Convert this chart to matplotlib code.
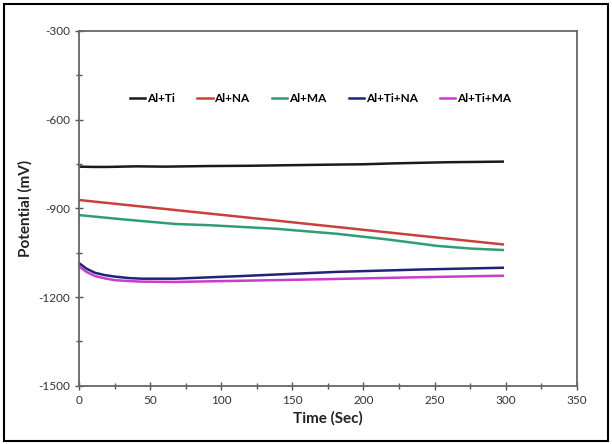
import matplotlib
matplotlib.use("Agg")
import matplotlib.pyplot as plt
from matplotlib.patches import Rectangle
import numpy as np

labels = ["Al+Ti", "Al+NA", "Al+MA", "Al+Ti+NA", "Al+Ti+MA"]
colors = ["#1a1a1a", "#c9403c", "#2f9e72", "#1f2478", "#cc3ccc"]

t_alti = [0, 10, 20, 40, 60, 91, 120, 150, 181, 200, 221, 240, 260, 280, 298]
v_alti = [-759, -760, -760, -758, -759, -757, -756, -754, -752, -751, -748, -746, -744, -743, -742]

t_alna = [0, 60, 120, 181, 240, 298]
v_alna = [-872, -902, -932, -963, -993, -1022]

t_alma = [0, 30, 67.6, 91, 138, 181, 216.5, 251.7, 275, 298]
v_alma = [-923, -937, -953, -957, -969, -986, -1005, -1027, -1036, -1041]

t_altina = [0, 5, 11, 18, 25, 35, 44, 67.6, 114.5, 181, 240, 298]
v_altina = [-1086, -1104, -1118, -1126, -1131, -1136, -1138, -1138, -1129, -1115, -1107, -1101]

t_altima = [0, 5, 11, 18, 25, 35, 44, 67.6, 114.5, 170, 240, 298]
v_altima = [-1097, -1115, -1129, -1137, -1143, -1146, -1148, -1149, -1145, -1140, -1133, -1128]

series = [(t_alti, v_alti), (t_alna, v_alna), (t_alma, v_alma),
          (t_altina, v_altina), (t_altima, v_altima)]

plt.rcParams['font.family'] = ['Lato', 'DejaVu Sans']
plt.rcParams['axes.unicode_minus'] = False

fig = plt.figure(figsize=(6.12, 4.44), dpi=100)
ax = fig.add_axes([0.1296, 0.1313, 0.8126, 0.799])

for (t, v), lab, c in zip(series, labels, colors):
    ax.plot(t, v, color=c, lw=1.8, label=lab)

ax.set_xlim(0, 350)
ax.set_ylim(-1500, -300)
ax.set_xticks(np.arange(0, 351, 50))
ax.set_yticks(np.arange(-1500, -299, 300))
ax.set_xticks(np.arange(25, 351, 50), minor=True)
ax.set_yticks(np.arange(-1350, -299, 300), minor=True)
ax.tick_params(which='both', direction='inout', color='#555555', labelsize=8.5,
               labelcolor='#333333', width=1)
ax.tick_params(which='major', length=6)
ax.tick_params(which='minor', length=4)
for s in ax.spines.values():
    s.set_color('#666666')
    s.set_linewidth(1.3)

ax.set_xlabel("Time (Sec)", fontsize=11, fontweight='bold', color='#222222', labelpad=4)
ax.set_ylabel("Potential (mV)", fontsize=11, fontweight='bold', color='#222222', labelpad=4)

leg = ax.legend(loc='center', bbox_to_anchor=(0.485, 0.81), ncol=5, frameon=False,
                handlelength=1.3, handletextpad=0.15, columnspacing=1.9,
                prop={'weight': 'bold', 'size': 8.5})

fig.patches.append(Rectangle((0.007, 0.006), 0.986, 0.985, transform=fig.transFigure,
                             fill=False, edgecolor='black', lw=1.5))

fig.savefig("out.png", dpi=100)
